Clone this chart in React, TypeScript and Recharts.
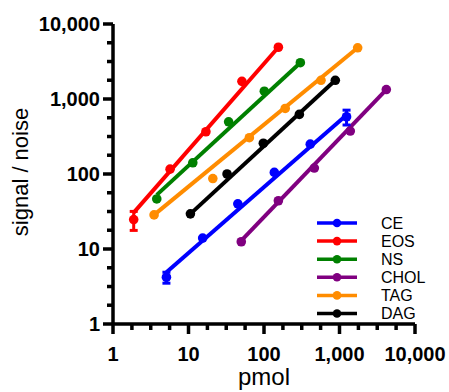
import React from 'react';
import {
  ComposedChart, Line, Scatter, XAxis, YAxis, ErrorBar, Legend,
} from 'recharts';

// tick values (log axes, 3 minor ticks per decade)
const majorTicks = [1, 10, 100, 1000, 10000];
const minorTicks = [1.78, 3.16, 5.62, 17.8, 31.6, 56.2, 178, 316, 562, 1780, 3160, 5620];

// measured points (pmol, signal/noise)
const ceX = [5.1, 15.4, 45, 137, 410, 1240];
const ceY = [4.2, 14, 40, 105, 250, 580];
const ceErr = [0.7, 0, 0, 0, 0, 130];

const eosX = [1.88, 5.7, 17, 51, 155];
const eosY = [24.7, 116, 366, 1720, 4900];
const eosErr = [7, 0, 0, 0, 0];

const nsX = [3.8, 11.4, 34, 101, 303];
const nsY = [46.5, 141, 497, 1270, 3050];

const cholX = [50, 155, 464, 1390, 4170];
const cholY = [12.5, 44, 120, 374, 1336];

const tagX = [3.5, 21, 64, 191, 569, 1740];
const tagY = [28.5, 87, 305, 748, 1776, 4820];

const dagX = [10.6, 32.4, 98, 294, 880];
const dagY = [29.4, 100, 257, 623, 1776];

// fitted lines: [start, end]
const ceFitX = [5.1, 1240];
const ceFitY = [4.9, 610];
const eosFitX = [1.88, 155];
const eosFitY = [30.6, 4900];
const nsFitX = [3.8, 303];
const nsFitY = [52.7, 3050];
const cholFitX = [50, 4170];
const cholFitY = [12.9, 1336];
const tagFitX = [3.5, 1740];
const tagFitY = [28.5, 4820];
const dagFitX = [10.6, 880];
const dagFitY = [29.4, 1776];

const font = '"Liberation Sans", Arial, sans-serif';

const zip = (xs: number[], ys: number[], errs?: number[]) =>
  xs.map((x, i) => ({ x, y: ys[i], err: errs && errs[i] ? errs[i] : undefined }));

const series = [
  { name: 'CE', color: '#0000FF', pts: zip(ceX, ceY, ceErr), fit: zip(ceFitX, ceFitY) },
  { name: 'EOS', color: '#FF0000', pts: zip(eosX, eosY, eosErr), fit: zip(eosFitX, eosFitY) },
  { name: 'NS', color: '#008000', pts: zip(nsX, nsY), fit: zip(nsFitX, nsFitY) },
  { name: 'CHOL', color: '#800080', pts: zip(cholX, cholY), fit: zip(cholFitX, cholFitY) },
  { name: 'TAG', color: '#FF8C00', pts: zip(tagX, tagY), fit: zip(tagFitX, tagFitY) },
  { name: 'DAG', color: '#000000', pts: zip(dagX, dagY), fit: zip(dagFitX, dagFitY) },
];

const fmt = (v: number) => v.toLocaleString('en-US');

function XTick({ x, y, payload }: any) {
  const major = majorTicks.includes(payload.value);
  return (
    <g>
      <line x1={x} y1={y} x2={x} y2={y + (major ? 10 : 6)} stroke="#000" strokeWidth={3.5} />
      {major && (
        <text x={x} y={y + 23} dy="0.71em" textAnchor="middle"
          fontFamily={font} fontSize={20} fontWeight="bold" fill="#000">
          {fmt(payload.value)}
        </text>
      )}
    </g>
  );
}

function YTick({ x, y, payload }: any) {
  const major = majorTicks.includes(payload.value);
  return (
    <g>
      <line x1={x} y1={y} x2={x - (major ? 10 : 6)} y2={y} stroke="#000" strokeWidth={3.5} />
      {major && (
        <text x={x - 13} y={y} dy="0.355em" textAnchor="end"
          fontFamily={font} fontSize={20} fontWeight="bold" fill="#000">
          {fmt(payload.value)}
        </text>
      )}
    </g>
  );
}

function LegendBox() {
  return (
    <svg width={130} height={112}>
      {series.map((s, i) => {
        const cy = 10 + i * 18.1;
        return (
          <g key={s.name}>
            <line x1={7} y1={cy} x2={47} y2={cy} stroke={s.color} strokeWidth={3.5} />
            <circle cx={27} cy={cy} r={4.3} fill={s.color} />
            <text x={71} y={cy} dy="0.355em" fontFamily={font} fontSize={16} fill="#000">
              {s.name}
            </text>
          </g>
        );
      })}
    </svg>
  );
}

export default function App() {
  return (
    <div style={{ position: 'absolute', left: 0, top: 0, background: '#fff' }}>
      <ComposedChart width={449} height={392} margin={{ top: 24, right: 34, bottom: 0, left: 0 }}>
        <XAxis
          dataKey="x"
          type="number"
          scale="log"
          domain={[1, 10000]}
          allowDataOverflow
          ticks={[...majorTicks, ...minorTicks]}
          interval={0}
          tickSize={0}
          tickMargin={0}
          tickLine={false}
          tick={<XTick />}
          axisLine={{ stroke: '#000', strokeWidth: 3.5 }}
          height={68}
          label={{
            content: () => (
              <text x={264} y={385} textAnchor="middle" fontFamily={font} fontSize={24} fill="#000">
                pmol
              </text>
            ),
          }}
        />
        <YAxis
          dataKey="y"
          type="number"
          scale="log"
          domain={[1, 10000]}
          allowDataOverflow
          ticks={[...majorTicks, ...minorTicks]}
          interval={0}
          tickSize={0}
          tickMargin={0}
          tickLine={false}
          tick={<YTick />}
          axisLine={{ stroke: '#000', strokeWidth: 3.5 }}
          width={113}
          label={{
            content: () => (
              <text x={28} y={172} transform="rotate(-90 28 172)" textAnchor="middle"
                fontFamily={font} fontSize={22} fill="#000">
                signal / noise
              </text>
            ),
          }}
        />
        {series.map((s) => (
          <Line
            key={`fit-${s.name}`}
            data={s.fit}
            dataKey="y"
            type="linear"
            stroke={s.color}
            strokeWidth={4}
            dot={false}
            activeDot={false}
            legendType="none"
            isAnimationActive={false}
          />
        ))}
        {series.map((s) => (
          <Scatter
            key={`pts-${s.name}`}
            data={s.pts}
            fill={s.color}
            legendType="none"
            isAnimationActive={false}
            shape={(p: any) => <circle cx={p.cx} cy={p.cy} r={4.8} fill={s.color} />}
          >
            <ErrorBar dataKey="err" direction="y" width={4} strokeWidth={3} stroke={s.color} />
          </Scatter>
        ))}
        <Legend
          layout="vertical"
          align="center"
          verticalAlign="middle"
          content={() => <LegendBox />}
          wrapperStyle={{ left: 310, top: 213, width: 130, height: 112 }}
        />
      </ComposedChart>
    </div>
  );
}
